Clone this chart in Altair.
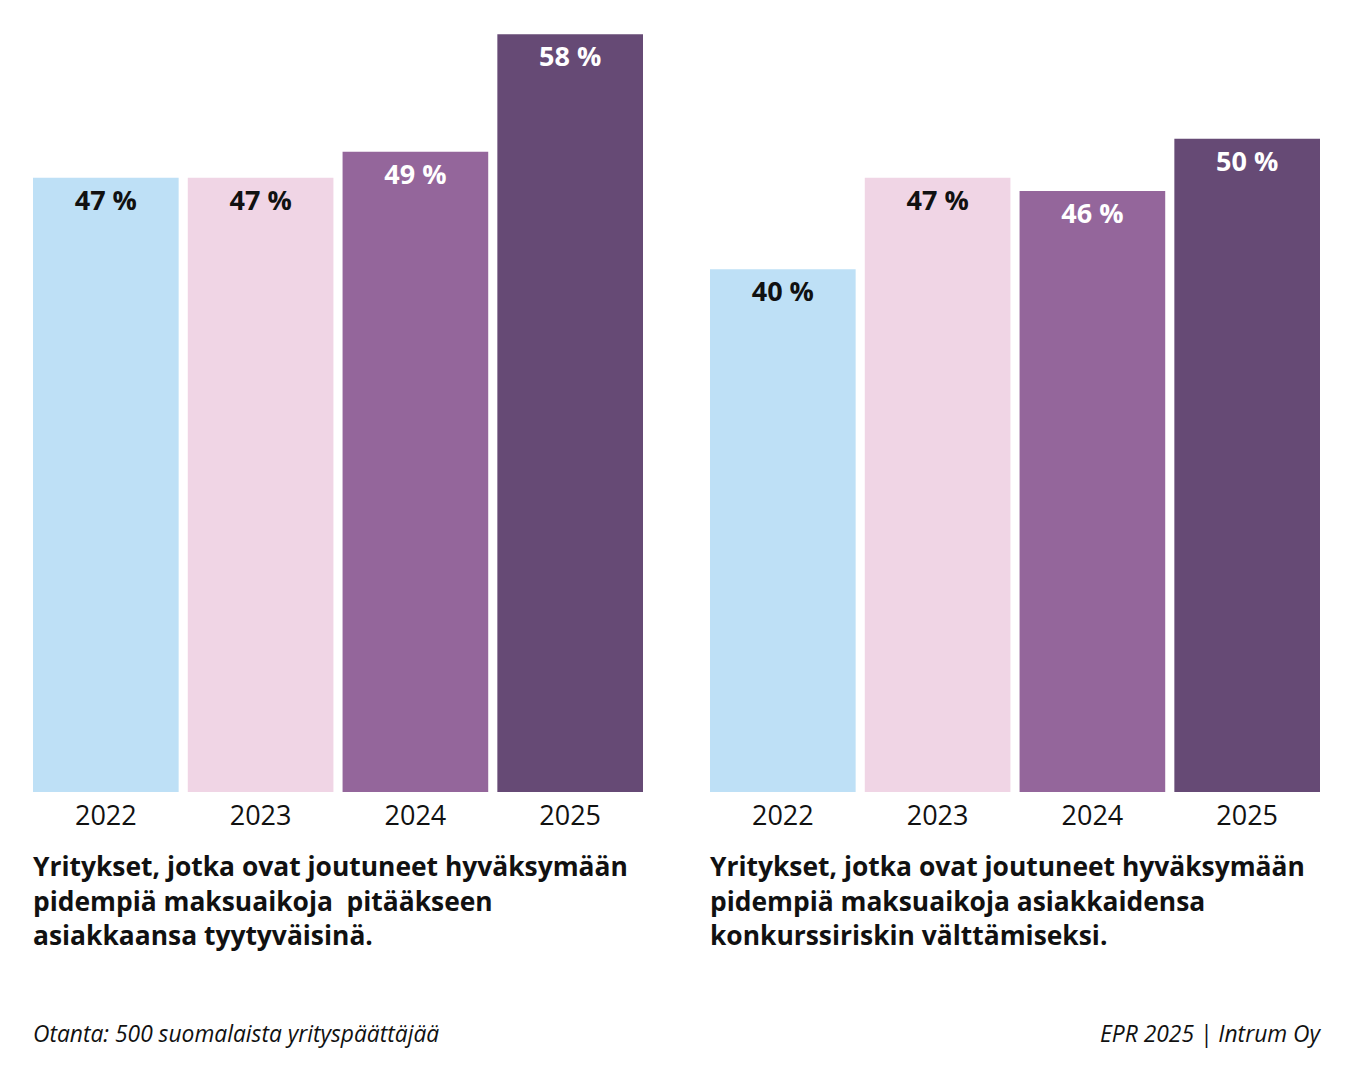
import altair as alt
import pandas as pd

years = ["2022", "2023", "2024", "2025"]
left_values = [47, 47, 49, 58]
right_values = [40, 47, 46, 50]
bar_colors = ["#BEE0F6", "#F0D5E5", "#94669B", "#664A75"]
label_colors = ["#111111", "#111111", "#FFFFFF", "#FFFFFF"]

left_caption = ["Yritykset, jotka ovat joutuneet hyväksymään",
                "pidempiä maksuaikoja \u00a0pitääkseen",
                "asiakkaansa tyytyväisinä."]
right_caption = ["Yritykset, jotka ovat joutuneet hyväksymään",
                 "pidempiä maksuaikoja asiakkaidensa",
                 "konkurssiriskin välttämiseksi."]
footer_left = "Otanta: 500 suomalaista yrityspäättäjää"
footer_right = "EPR 2025 | Intrum Oy"

FONT = "Open Sans"
W = 610
H = 784


def panel(values, caption, footer, footer_align):
    df = pd.DataFrame({
        "year": years,
        "value": values,
        "label": [f"{v} %" for v in values],
        "bar_color": bar_colors,
        "label_color": label_colors,
    })
    x = alt.X("year:N", sort=years, title=None,
              scale=alt.Scale(paddingInner=0.059, paddingOuter=0),
              axis=alt.Axis(domain=False, ticks=False, labelAngle=0,
                            labelFontSize=27, labelFont=FONT,
                            labelColor="#111111", labelPadding=11))
    y = alt.Y("value:Q", scale=alt.Scale(domain=[0, 60], nice=False), axis=None)
    base = alt.Chart(df).encode(x=x, y=y)
    bars = base.mark_bar().encode(color=alt.Color("bar_color:N", scale=None))
    labels = base.mark_text(baseline="middle", dy=24, fontSize=27,
                            fontWeight="bold", font=FONT).encode(
        text="label:N", color=alt.Color("label_color:N", scale=None))
    cap = alt.Chart(pd.DataFrame({"t": [0]})).mark_text(
        align="left", baseline="middle", fontSize=26.4, fontWeight="bold",
        font=FONT, lineHeight=34.5, color="#111111").encode(
        x=alt.value(0), y=alt.value(860), text=alt.value(caption))
    foot = alt.Chart(pd.DataFrame({"t": [0]})).mark_text(
        align=footer_align, baseline="middle", fontSize=22.8, fontStyle="italic",
        font=FONT, color="#111111").encode(
        x=alt.value(0 if footer_align == "left" else W), y=alt.value(1027),
        text=alt.value(footer))
    return alt.layer(bars, labels, cap, foot).properties(width=W, height=H)


chart = alt.hconcat(
    panel(left_values, left_caption, footer_left, "left"),
    panel(right_values, right_caption, footer_right, "right"),
    spacing=67,
).properties(
    padding={"left": 25, "top": 0, "right": 5, "bottom": 5},
    background="#FFFFFF",
).configure_view(stroke=None)

chart.save("out.html", embed_options={"renderer": "svg", "actions": False})
